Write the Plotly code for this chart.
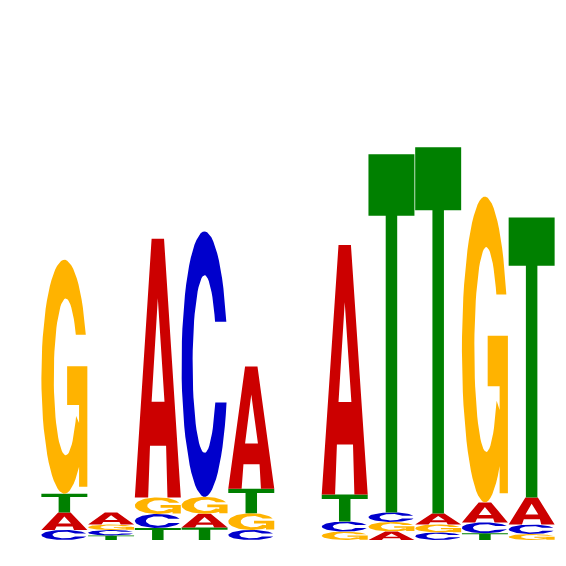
import math
import plotly.graph_objects as go

# ---- data (information content per letter, per position) ----
positions = [1, 2, 3, 4, 5, 6, 7, 8, 9, 10, 11]
A_heights = [0.088, 0.060, 1.293, 0.069, 0.612, 0.0, 1.247, 0.043, 0.055, 0.100, 0.136]
C_heights = [0.050, 0.027, 0.070, 1.327, 0.050, 0.0, 0.050, 0.048, 0.038, 0.054, 0.047]
G_heights = [1.170, 0.028, 0.083, 0.085, 0.084, 0.0, 0.042, 0.047, 0.040, 1.529, 0.030]
T_heights = [0.093, 0.023, 0.060, 0.062, 0.122, 0.0, 0.136, 1.791, 1.831, 0.034, 1.399]
letters = ["A", "C", "G", "T"]
colors = {"A": "#CC0000", "C": "#0000CC", "G": "#FFB300", "T": "#008000"}


# ---- glyph outlines in a unit box (x, y in [0, 1]) ----
def ellipse_pt(cx, cy, rx, ry, a):
    return (cx + rx * math.cos(a), cy + ry * math.sin(a))


def arc_polygon(top_cut, bot_end_angle=None, bot_cut=None, ix=0.5, iw=0.26, ih=0.335, n=60):
    a0 = math.asin((top_cut - 0.5) / 0.5)
    b0 = math.asin((top_cut - 0.5) / ih)
    if bot_cut is not None:
        a1 = 2 * math.pi + math.asin((bot_cut - 0.5) / 0.5)
        b1 = 2 * math.pi + math.asin((bot_cut - 0.5) / ih)
    else:
        a1 = bot_end_angle
        b1 = bot_end_angle
    pts = []
    for k in range(n + 1):
        a = a0 + (a1 - a0) * k / n
        pts.append(ellipse_pt(0.5, 0.5, 0.5, 0.5, a))
    for k in range(n + 1):
        b = b1 + (b0 - b1) * k / n
        pts.append(ellipse_pt(ix, 0.5, iw, ih, b))
    return pts


def glyph(letter):
    if letter == "A":
        outer = [(0, 0), (0.29, 0), (0.33, 0.2), (0.68, 0.2), (0.71, 0), (1, 0),
                 (0.635, 1), (0.365, 1)]
        hole = [(0.365, 0.37), (0.5, 0.77), (0.645, 0.37)]
        return [outer, hole]
    if letter == "C":
        return [arc_polygon(0.66, bot_cut=0.355)]
    if letter == "G":
        arc = arc_polygon(0.68, bot_end_angle=2 * math.pi - math.radians(30), ix=0.53)
        bar = [(0.56, 0.38), (1.0, 0.38), (1.0, 0.545), (0.56, 0.545)]
        stem = [(0.82, 0.03), (1.0, 0.03), (1.0, 0.545), (0.82, 0.545)]
        return [arc, bar, stem]
    if letter == "T":
        return [[(0.375, 0), (0.625, 0), (0.625, 0.828), (1, 0.828), (1, 1), (0, 1),
                 (0, 0.828), (0.375, 0.828)]]
    return []


heights = {"A": A_heights, "C": C_heights, "G": G_heights, "T": T_heights}
half_w = 0.492

fig = go.Figure()
for i, pos in enumerate(positions):
    col = sorted([(heights[L][i], L) for L in letters])
    base = 0.0
    for h, L in col:
        if h <= 0:
            continue
        xs, ys = [], []
        for poly in glyph(L):
            for (u, v) in poly:
                xs.append(pos - half_w + 2 * half_w * u)
                ys.append(base + h * v)
            xs.append(poly[0][0] * 2 * half_w + pos - half_w)
            ys.append(base + h * poly[0][1])
            xs.append(None)
            ys.append(None)
        fig.add_trace(go.Scatter(
            x=xs, y=ys, mode="lines", fill="toself",
            fillcolor=colors[L], line=dict(width=0, color=colors[L]),
            hoverinfo="skip", showlegend=False,
        ))
        base += h

fig.update_layout(
    width=566, height=566,
    margin=dict(l=33, r=19, t=12, b=34),
    paper_bgcolor="white", plot_bgcolor="white",
    xaxis=dict(range=[0.5, 11.5], visible=False, fixedrange=True),
    yaxis=dict(range=[0, 2.6], visible=False, fixedrange=True),
)
fig.write_html("out.html")
